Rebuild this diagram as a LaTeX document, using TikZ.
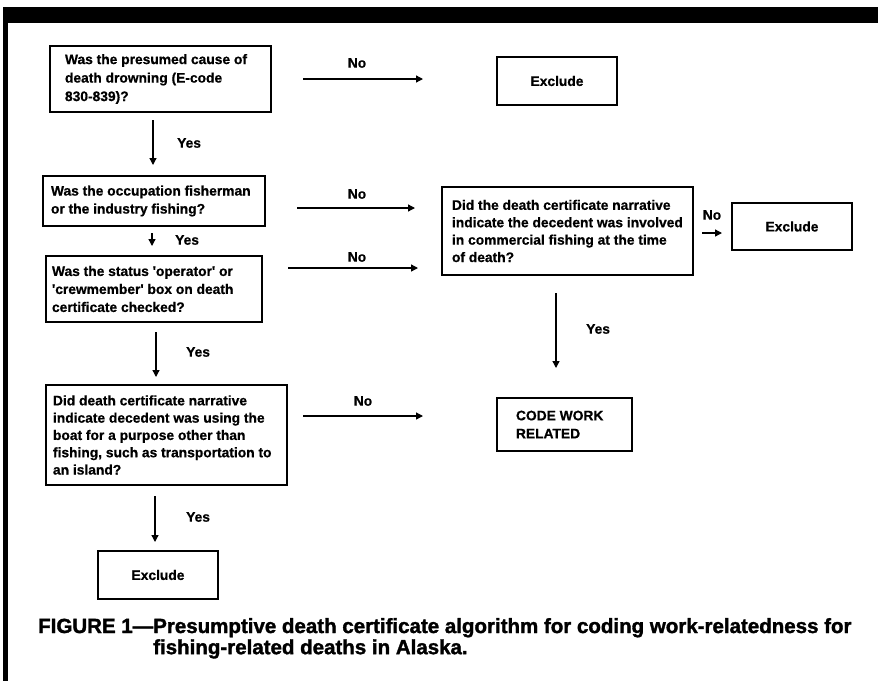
\documentclass[tikz,border=0pt]{standalone}
\usepackage{fontspec}
\setmainfont{Liberation Sans}[BoldFeatures={FakeBold=0.7}]
\newfontfamily\capfam{Liberation Sans}[BoldFeatures={FakeBold=1.6}]
\usetikzlibrary{arrows.meta}
\newcommand\boxfont{\fontsize{13.8}{18}\selectfont\bfseries}
\newcommand\capfont{\capfam\fontsize{20.5}{21}\selectfont\bfseries}
\newcommand\bt[3]{\hspace*{#1}\parbox[c]{#2}{\raggedright #3}}
\begin{document}
\begin{tikzpicture}[x=1pt,y=-1pt,
  box/.style={draw, line width=1.5pt, font=\boxfont, inner sep=0pt},
  exbox/.style={draw, line width=1.5pt, font=\boxfont, inner sep=0pt, align=center},
  lbl/.style={font=\boxfont, inner sep=0pt},
  arr/.style={line width=1.3pt, -{Triangle[length=7pt,width=7pt]}}]
\useasboundingbox (0,0) rectangle (878,681);
% frame
\fill (3,7) rectangle (878,23);
\fill (3,7) rectangle (7.5,681);
% boxes
\node[box, minimum height=66pt] (q1) at (160.5,79)
  {\bt{15pt}{206pt}{\baselineskip=18.5pt Was the presumed cause of\\death drowning (E-code\\830-839)?}};
\node[exbox, minimum width=120pt, minimum height=48pt] (ex1) at (557,81) {Exclude};
\node[box, minimum height=50pt] (q2) at (154,201)
  {\bt{8pt}{214pt}{Was the occupation fisherman\\or the industry fishing?}};
\node[box, minimum height=88pt] (nq) at (567.5,231)
  {\bt{10pt}{241pt}{\baselineskip=17.4pt Did the death certificate narrative\\indicate the decedent was involved\\in commercial fishing at the time\\of death?}};
\node[exbox, minimum width=120pt, minimum height=47pt] (ex2) at (792,226.5) {Exclude};
\node[box, minimum height=66pt] (q3) at (154,289)
  {\bt{6pt}{210pt}{Was the status \textquotesingle operator\textquotesingle{} or\\\textquotesingle crewmember\textquotesingle{} box on death\\certificate checked?}};
\node[box, minimum height=100pt] (q4) at (166.5,435)
  {\bt{7pt}{234pt}{\baselineskip=17.3pt Did death certificate narrative\\indicate decedent was using the\\boat for a purpose other than\\fishing, such as transportation to\\an island?}};
\node[box, minimum height=53pt] (cw) at (564.5,424.5)
  {\bt{19pt}{116pt}{CODE WORK\\RELATED}};
\node[exbox, minimum width=120pt, minimum height=48pt] (ex3) at (158,575) {Exclude};
% arrow end points
\coordinate (a1s) at (303,79);  \coordinate (a1e) at (423,79);
\coordinate (b1s) at (153,120); \coordinate (b1e) at (153,165);
\coordinate (a2s) at (297,208); \coordinate (a2e) at (415,208);
\coordinate (b2s) at (152,233); \coordinate (b2e) at (152,246);
\coordinate (a3s) at (288,268); \coordinate (a3e) at (418,268);
\coordinate (b3s) at (156,332); \coordinate (b3e) at (156,377);
\coordinate (a4s) at (303,416); \coordinate (a4e) at (423,416);
\coordinate (b4s) at (155,496); \coordinate (b4e) at (155,542);
\coordinate (ns) at (702,233);  \coordinate (ne) at (722,233);
\coordinate (nys) at (556,293); \coordinate (nye) at (556,368);
% arrows
\draw[arr] (a1s) -- (a1e);
\draw[arr] (b1s) -- (b1e);
\draw[arr] (a2s) -- (a2e);
\draw[arr] (b2s) -- (b2e);
\draw[arr] (a3s) -- (a3e);
\draw[arr] (b3s) -- (b3e);
\draw[arr] (a4s) -- (a4e);
\draw[arr] (b4s) -- (b4e);
\draw[arr] (ns) -- (ne);
\draw[arr] (nys) -- (nye);
% labels
\node[lbl] (l1) at (357,63) {No};
\node[lbl, anchor=west] (y1) at (177,143) {Yes};
\node[lbl] (l2) at (357,194) {No};
\node[lbl, anchor=west] (y2) at (175,240) {Yes};
\node[lbl] (l3) at (357,257) {No};
\node[lbl, anchor=west] (y3) at (186,352) {Yes};
\node[lbl] (l4) at (363,401) {No};
\node[lbl, anchor=west] (y4) at (186,517) {Yes};
\node[lbl] (l5) at (712,215) {No};
\node[lbl, anchor=west] (y5) at (586,329) {Yes};
% caption
\node[font=\capfont, inner sep=0pt, anchor=base west] (cap) at (38,633)
  {FIGURE 1—\begin{tabular}[t]{@{}l@{}}Presumptive death certificate algorithm for coding work-relatedness for\\fishing-related deaths in Alaska.\end{tabular}};
\end{tikzpicture}
\end{document}
